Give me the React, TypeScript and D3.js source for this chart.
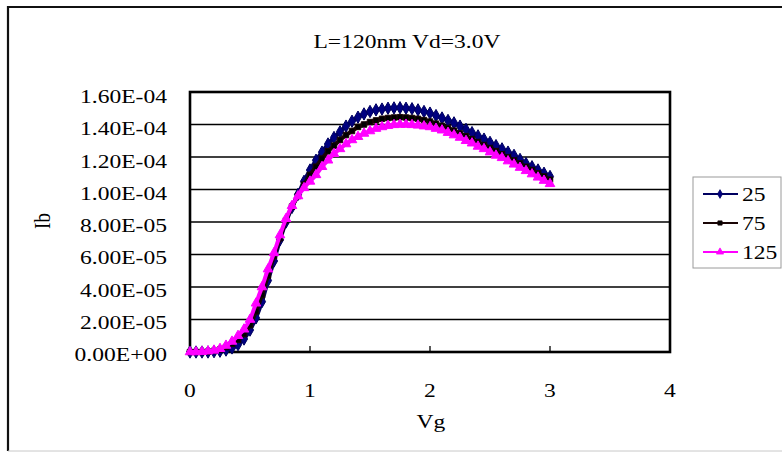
import React from "react";
import * as d3 from "d3";

const vg = [
  0, 0.05, 0.1, 0.15, 0.2, 0.25, 0.3, 0.35, 0.4, 0.45,
  0.5, 0.55, 0.6, 0.65, 0.7, 0.75, 0.8, 0.85, 0.9, 0.95,
  1.0, 1.05, 1.1, 1.15, 1.2, 1.25, 1.3, 1.35, 1.4, 1.45,
  1.5, 1.55, 1.6, 1.65, 1.7, 1.75, 1.8, 1.85, 1.9, 1.95,
  2.0, 2.05, 2.1, 2.15, 2.2, 2.25, 2.3, 2.35, 2.4, 2.45,
  2.5, 2.55, 2.6, 2.65, 2.7, 2.75, 2.8, 2.85, 2.9, 2.95,
  3.0,
];

// Ib values in units of 1e-5 A
const ib25 = [
  0, 0, 0, 0, 0.02, 0.05, 0.12, 0.25, 0.45, 0.8,
  1.35, 2.1, 3.1, 4.4, 5.6, 6.9, 8.0, 8.9, 9.7, 10.5,
  11.2, 11.8, 12.3, 12.8, 13.2, 13.55, 13.9, 14.2, 14.45, 14.65,
  14.8, 14.9, 14.95, 15.0, 15.02, 15.03, 15.0, 14.97, 14.9, 14.8,
  14.7, 14.55, 14.4, 14.25, 14.1, 13.9, 13.7, 13.5, 13.3, 13.1,
  12.9, 12.7, 12.5, 12.3, 12.1, 11.85, 11.6, 11.4, 11.2, 11.0,
  10.8,
];
const ib75 = [
  0, 0, 0, 0.02, 0.07, 0.15, 0.3, 0.5, 0.75, 1.1,
  1.65, 2.5, 3.5, 4.7, 5.9, 7.0, 8.1, 8.95, 9.6, 10.3,
  10.9, 11.4, 11.9, 12.35, 12.7, 13.05, 13.35, 13.6, 13.85, 14.0,
  14.15, 14.25, 14.35, 14.4, 14.43, 14.45, 14.43, 14.4, 14.35, 14.27,
  14.18, 14.05, 13.92, 13.78, 13.62, 13.45, 13.28, 13.1, 12.92, 12.73,
  12.55, 12.36, 12.17, 11.98, 11.79, 11.6, 11.4, 11.2, 11.0, 10.8,
  10.6,
];
const ib125 = [
  0, 0, 0.02, 0.05, 0.1, 0.2, 0.4, 0.65, 1.0, 1.4,
  2.0, 3.0, 4.0, 5.1, 6.1, 7.2, 8.2, 9.0, 9.6, 10.1,
  10.5, 10.9, 11.4, 11.8, 12.2, 12.5, 12.8, 13.05, 13.25, 13.45,
  13.6, 13.75, 13.85, 13.93, 13.98, 14.0, 14.0, 13.98, 13.95, 13.9,
  13.85, 13.75, 13.65, 13.5, 13.35, 13.2, 13.0, 12.85, 12.65, 12.5,
  12.3, 12.1, 11.95, 11.75, 11.55, 11.35, 11.15, 10.95, 10.75, 10.55,
  10.35,
];

const seriesNames = ["25", "75", "125"];
const seriesColors = ["#000060", "#1a0505", "#ff00ff"];
const seriesMarkerFill = ["#000080", "#000000", "#ff00ff"];
const seriesSymbols = [d3.symbolDiamond, d3.symbolSquare, d3.symbolTriangle];
const seriesValues = [ib25, ib75, ib125];

const yTickValues = [0, 2, 4, 6, 8, 10, 12, 14, 16];
const yTickLabels = [
  "0.00E+00", "2.00E-05", "4.00E-05", "6.00E-05", "8.00E-05",
  "1.00E-04", "1.20E-04", "1.40E-04", "1.60E-04",
];
const xTickValues = [0, 1, 2, 3, 4];
const xTickLabels = ["0", "1", "2", "3", "4"];

const title = "L=120nm Vd=3.0V";
const xTitle = "Vg";
const yTitle = "Ib";

const FONT = "'Liberation Serif', 'Times New Roman', serif";
const SX = 1.24;

export default function App() {
  const x = d3.scaleLinear().domain([0, 4]).range([190, 670]);
  const y = d3.scaleLinear().domain([0, 16]).range([352, 92]);
  const line = d3
    .line<number>()
    .x((_, i) => x(vg[i]))
    .y((d) => y(d))
    .curve(d3.curveMonotoneX);

  const symbolPaths = [
    d3.symbol(seriesSymbols[0], 44)(),
    d3.symbol(seriesSymbols[1], 30)(),
    d3.symbol(seriesSymbols[2], 40)(),
  ];
  const legendSymbolPaths = [
    d3.symbol(seriesSymbols[0], 22)(),
    d3.symbol(seriesSymbols[1], 18)(),
    d3.symbol(seriesSymbols[2], 22)(),
  ];

  return (
    <svg
      width={782}
      height={452}
      style={{ position: "fixed", left: 0, top: 0, background: "#fff" }}
      fontFamily={FONT}
    >
      <rect x={0} y={0} width={782} height={452} fill="#fff" />
      {/* outer frame */}
      <line x1={8} y1={7} x2={782} y2={7} stroke="#111" strokeWidth={2} />
      <line x1={8} y1={6} x2={8} y2={451} stroke="#111" strokeWidth={2.2} />
      <line x1={8} y1={451} x2={782} y2={451} stroke="#c8c8c8" strokeWidth={1} />

      {/* title */}
      <text
        transform={`translate(407,48) scale(${SX},1)`}
        textAnchor="middle"
        fontSize={19}
        fill="#000"
      >
        {title}
      </text>

      {/* gridlines */}
      {yTickValues.slice(1, -1).map((v) => (
        <line
          key={"g" + v}
          x1={x(0)}
          x2={x(4)}
          y1={y(v)}
          y2={y(v)}
          stroke="#000"
          strokeWidth={1.3}
        />
      ))}

      {/* x ticks */}
      {xTickValues.slice(1, -1).map((v) => (
        <line
          key={"t" + v}
          x1={x(v)}
          x2={x(v)}
          y1={y(0)}
          y2={y(0) - 6}
          stroke="#000"
          strokeWidth={1.3}
        />
      ))}

      {/* plot border */}
      <rect
        x={x(0)}
        y={y(16)}
        width={x(4) - x(0)}
        height={y(0) - y(16)}
        fill="none"
        stroke="#000"
        strokeWidth={2.6}
      />

      {/* y tick labels */}
      {yTickValues.map((v, i) => (
        <text
          key={"yl" + v}
          transform={`translate(167,${y(v) + 9 + (v / 16) * 2}) scale(${SX},1)`}
          textAnchor="end"
          fontSize={19}
          fill="#000"
        >
          {yTickLabels[i]}
        </text>
      ))}

      {/* x tick labels */}
      {xTickValues.map((v, i) => (
        <text
          key={"xl" + v}
          transform={`translate(${x(v)},397) scale(${SX},1)`}
          textAnchor="middle"
          fontSize={19}
          fill="#000"
        >
          {xTickLabels[i]}
        </text>
      ))}

      {/* axis titles */}
      <text
        transform={`translate(431,428) scale(${SX},1)`}
        textAnchor="middle"
        fontSize={19}
        fill="#000"
      >
        {xTitle}
      </text>
      <text
        transform={`translate(50,221) scale(${SX},1) rotate(-90)`}
        textAnchor="middle"
        fontSize={19}
        fill="#000"
      >
        {yTitle}
      </text>

      {/* series */}
      {seriesValues.map((vals, si) => (
        <g key={"s" + si}>
          <path
            d={line(vals) || ""}
            fill="none"
            stroke={seriesColors[si]}
            strokeWidth={4}
            strokeLinejoin="round"
          />
          {vals.map((v, i) => (
            <path
              key={i}
              d={symbolPaths[si] || ""}
              transform={`translate(${x(vg[i])},${y(v)})`}
              fill={seriesMarkerFill[si]}
              stroke={seriesColors[si]}
              strokeWidth={1}
            />
          ))}
        </g>
      ))}

      {/* legend */}
      <rect x={693} y={177} width={88} height={91} fill="#fff" stroke="#9a9a9a" strokeWidth={1} />
      {seriesNames.map((name, i) => {
        const ly = 194 + i * 29;
        return (
          <g key={"lg" + name}>
            <line x1={703} x2={738} y1={ly} y2={ly} stroke={seriesColors[i]} strokeWidth={2} />
            <path
              d={legendSymbolPaths[i] || ""}
              transform={`translate(720,${ly})`}
              fill={seriesMarkerFill[i]}
              stroke={seriesColors[i]}
              strokeWidth={0.8}
            />
            <text
              transform={`translate(742,${ly + 7}) scale(${SX},1)`}
              fontSize={19}
              fill="#000"
            >
              {name}
            </text>
          </g>
        );
      })}
    </svg>
  );
}
